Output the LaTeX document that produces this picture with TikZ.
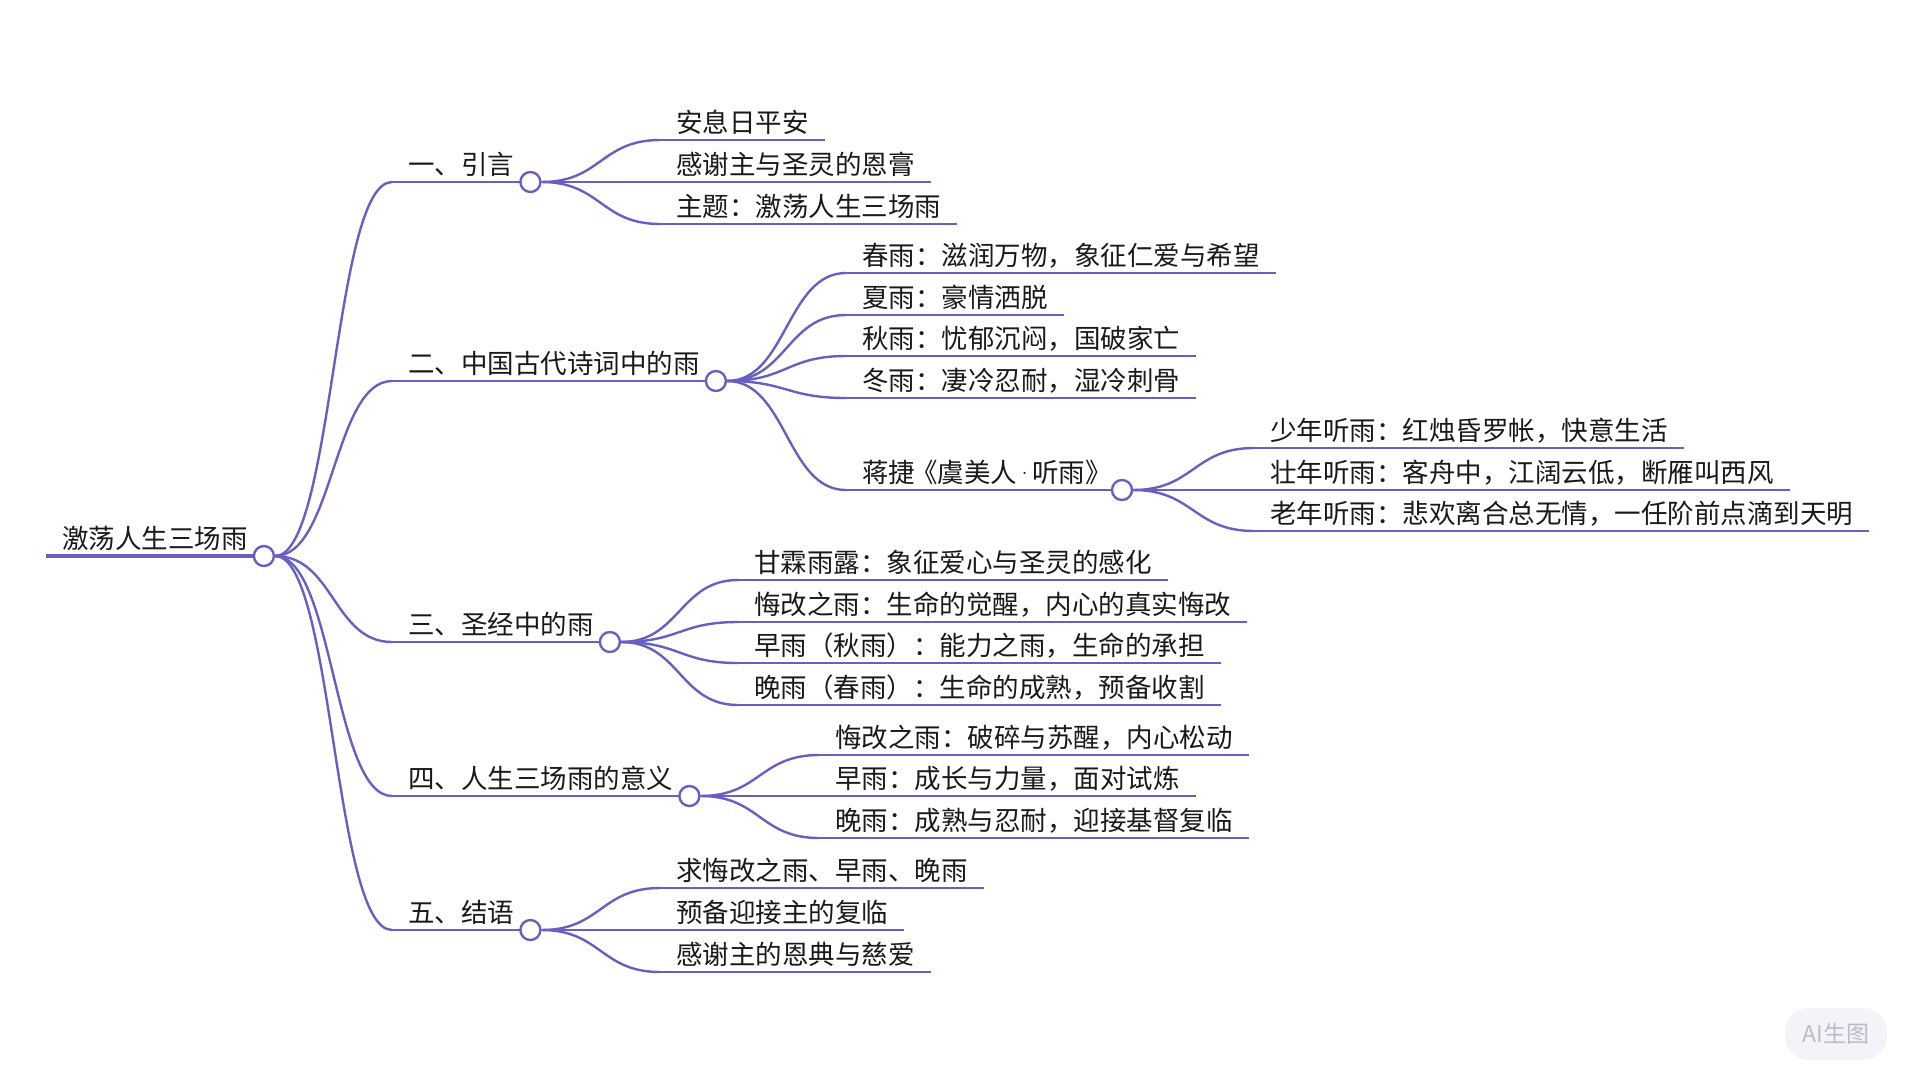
\documentclass[tikz,border=0pt]{standalone}
\usepackage{fontspec}
\newfontfamily\cjk{Noto Sans CJK SC}
\usetikzlibrary{calc}
\definecolor{branch}{RGB}{105,95,195}
\definecolor{wmtext}{RGB}{188,188,200}
\definecolor{wmfill}{RGB}{243,243,248}
\begin{document}
\begin{tikzpicture}[x=1pt,y=-1pt,
    lbl/.style={font=\cjk\fontsize{26.5}{26.5}\selectfont, text=black!90, inner xsep=16pt, inner ysep=0pt, text depth=7.5pt, anchor=south west},
    dot/.style={circle, draw=branch, fill=white, line width=2.4pt, minimum size=20pt, inner sep=0pt},
    ul/.style={draw=branch, line width=2.4pt},
    link/.style={draw=branch, line width=2.4pt, to path={let \p1=(\tikztostart), \p2=(\tikztotarget) in
        .. controls ({(\x1+\x2)/2},\y1) and ({(\x1+\x2)/2},\y2) .. (\tikztotarget)}},
    wmark/.style={fill=wmfill, rounded corners=24pt, text=wmtext, font=\cjk\fontsize{23}{23}\selectfont, minimum width=102pt, minimum height=52pt}]
    \useasboundingbox (0,0) rectangle (1920,1080);
    \node[lbl] (root) at (46,556) {激荡人生三场雨};
    \node[lbl] (s1) at (392,182) {一、引言};
    \node[lbl] (s2) at (392,381) {二、中国古代诗词中的雨};
    \node[lbl] (s3) at (392,642) {三、圣经中的雨};
    \node[lbl] (s4) at (392,796) {四、人生三场雨的意义};
    \node[lbl] (s5) at (392,930) {五、结语};
    \node[lbl] (s2e) at (846,490) {蒋捷\kern-4pt《虞美人\kern-2pt{\rmfamily ·}\kern-2pt听雨》\kern-6pt};
    \node[lbl] (a1) at (660,140) {安息日平安};
    \node[lbl] (a2) at (660,182) {感谢主与圣灵的恩膏};
    \node[lbl] (a3) at (660,224) {主题：激荡人生三场雨};
    \node[lbl] (b1) at (846,273) {春雨：滋润万物，象征仁爱与希望};
    \node[lbl] (b2) at (846,315) {夏雨：豪情洒脱};
    \node[lbl] (b3) at (846,356) {秋雨：忧郁沉闷，国破家亡};
    \node[lbl] (b4) at (846,398) {冬雨：凄冷忍耐，湿冷刺骨};
    \node[lbl] (e1) at (1254,448) {少年听雨：红烛昏罗帐，快意生活};
    \node[lbl] (e2) at (1254,490) {壮年听雨：客舟中，江阔云低，断雁叫西风};
    \node[lbl] (e3) at (1254,531) {老年听雨：悲欢离合总无情，一任阶前点滴到天明};
    \node[lbl] (c1) at (738,580) {甘霖雨露：象征爱心与圣灵的感化};
    \node[lbl] (c2) at (738,622) {悔改之雨：生命的觉醒，内心的真实悔改};
    \node[lbl] (c3) at (738,663) {早雨（秋雨）：能力之雨，生命的承担};
    \node[lbl] (c4) at (738,705) {晚雨（春雨）：生命的成熟，预备收割};
    \node[lbl] (d1) at (819,755) {悔改之雨：破碎与苏醒，内心松动};
    \node[lbl] (d2) at (819,796) {早雨：成长与力量，面对试炼};
    \node[lbl] (d3) at (819,838) {晚雨：成熟与忍耐，迎接基督复临};
    \node[lbl] (f1) at (660,888) {求悔改之雨、早雨、晚雨};
    \node[lbl] (f2) at (660,930) {预备迎接主的复临};
    \node[lbl] (f3) at (660,972) {感谢主的恩典与慈爱};
    \draw[ul, line width=3.2pt] (root.south west) -- (root.south east);
    \foreach \n in {a1,a2,a3,b1,b2,b3,b4,e1,e2,e3,c1,c2,c3,c4,d1,d2,d3,f1,f2,f3,s1,s2,s3,s4,s5,s2e}
        \draw[ul] (\n.south west) -- (\n.south east);
    \foreach \n in {root,s1,s2,s3,s4,s5,s2e}
        \node[dot] (\n-d) at (\n.south east) {};
    \foreach \p/\c in {root/s1,root/s2,root/s3,root/s4,root/s5,
        s1/a1,s1/a2,s1/a3,s2/b1,s2/b2,s2/b3,s2/b4,s2/s2e,s2e/e1,s2e/e2,s2e/e3,
        s3/c1,s3/c2,s3/c3,s3/c4,s4/d1,s4/d2,s4/d3,s5/f1,s5/f2,s5/f3}
        \draw[link] (\p-d.east) to (\c.south west);
    \node[wmark] (wm) at (1836,1034) {AI生图};
\end{tikzpicture}
\end{document}
